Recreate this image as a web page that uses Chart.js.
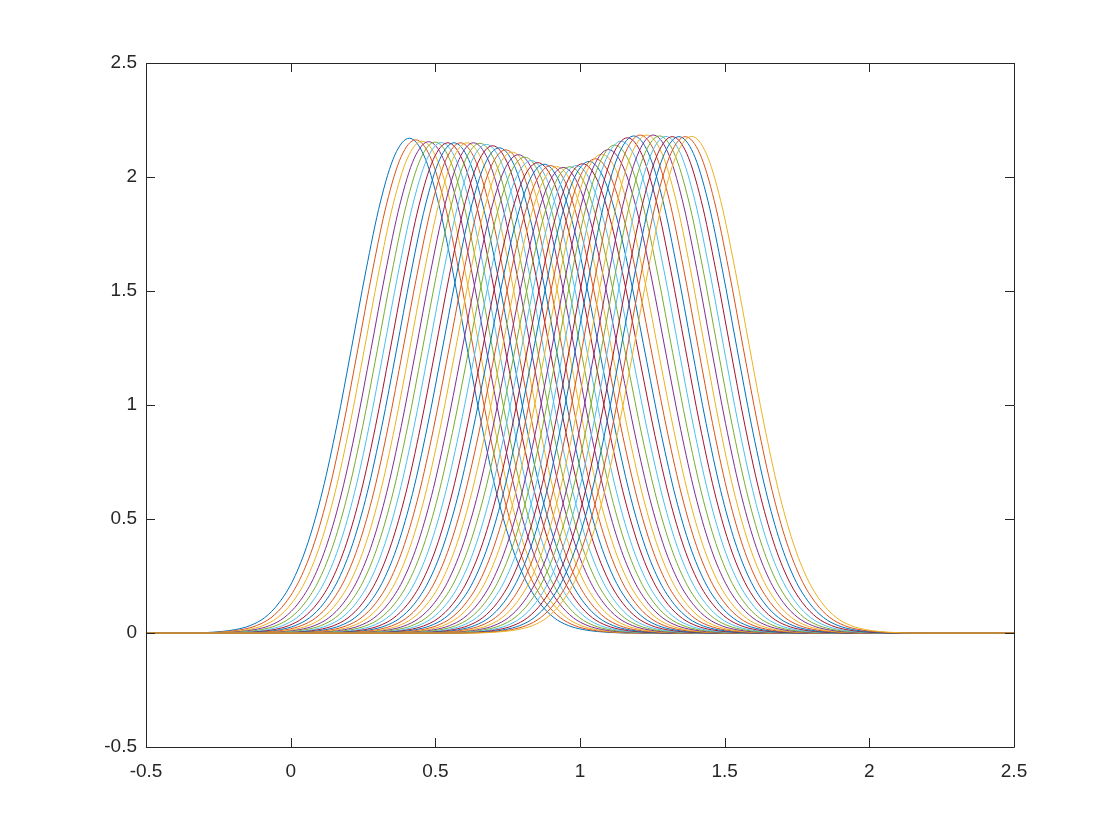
<!DOCTYPE html>
<html>
<head>
<meta charset="utf-8">
<script src="https://cdn.jsdelivr.net/npm/chart.js@4.4.1/dist/chart.umd.min.js"></script>
<style>
  html, body { margin: 0; padding: 0; background: #fff; }
  #wrap { width: 1120px; height: 840px; position: relative; }
</style>
</head>
<body>
<div id="wrap"><canvas id="plot"></canvas></div>
<script>
// profileDx = distance from the peak, profileY = height / peak height
const profileDx = [-0.80, -0.75, -0.70, -0.65, -0.60, -0.55, -0.50, -0.45, -0.40, -0.35, -0.30, -0.25, -0.20, -0.15, -0.10, -0.05,
  0.00, 0.05, 0.10, 0.15, 0.20, 0.25, 0.30, 0.35, 0.40, 0.45, 0.50, 0.55, 0.60, 0.65, 0.70, 0.75, 0.80];
const profileY = [0.000, 0.000, 0.001, 0.003, 0.007, 0.015, 0.031, 0.061, 0.109, 0.183, 0.287, 0.421, 0.575, 0.732, 0.871, 0.966,
  1.000, 0.966, 0.871, 0.732, 0.575, 0.421, 0.287, 0.183, 0.109, 0.061, 0.031, 0.015, 0.007, 0.003, 0.001, 0.000, 0.000];

// peak position and peak height of each of the 45 curves
const peakX = [0.410, 0.432, 0.454, 0.477, 0.499, 0.521, 0.543, 0.565, 0.587, 0.610, 0.632, 0.654, 0.676, 0.698, 0.721,
  0.743, 0.765, 0.787, 0.809, 0.831, 0.854, 0.876, 0.898, 0.920, 0.942, 0.965, 0.987, 1.009, 1.031, 1.053,
  1.075, 1.098, 1.120, 1.142, 1.164, 1.186, 1.208, 1.231, 1.253, 1.275, 1.297, 1.319, 1.342, 1.364, 1.386];
const peakY = [2.170, 2.163, 2.157, 2.155, 2.153, 2.151, 2.150, 2.150, 2.150, 2.150, 2.150, 2.148, 2.143, 2.137, 2.128,
  2.119, 2.109, 2.098, 2.087, 2.072, 2.063, 2.056, 2.050, 2.045, 2.042, 2.045, 2.050, 2.058, 2.068, 2.080,
  2.100, 2.120, 2.140, 2.157, 2.172, 2.180, 2.184, 2.184, 2.184, 2.180, 2.178, 2.177, 2.177, 2.177, 2.178];

const xRange = [-0.5, 2.5];
const yRange = [-0.5, 2.5];
const tickStep = 0.5;

// default MATLAB colour order
const colorOrder = ['#0072BD', '#D95319', '#EDB120', '#7E2F8E', '#77AC30', '#4DBEEE', '#A2142F'];

const axisColor = '#262626';
const fontFamily = '"Liberation Sans", Helvetica, Arial, sans-serif';

function curvePoints(i){
  const pts = [{x: xRange[0], y: 0}];
  profileDx.forEach((dx, k) => pts.push({x: peakX[i] + dx, y: peakY[i] * profileY[k]}));
  pts.push({x: xRange[1], y: 0});
  return pts;
}

const datasets = peakX.map((_, i) => ({
  data: curvePoints(i),
  borderColor: colorOrder[i % colorOrder.length],
  borderWidth: 1,
  pointRadius: 0,
  fill: false,
  cubicInterpolationMode: 'monotone',
  order: -i
}));

// plain tick text: 1 not 1.0
const tickLabel = v => String(Math.round(v * 10) / 10);

// box round the axes with inward ticks on all four sides
const boxPlugin = {
  id: 'box',
  afterDraw(chart){
    const {ctx, chartArea: a, scales} = chart;
    const len = 9;
    ctx.save();
    ctx.strokeStyle = axisColor;
    ctx.lineWidth = 1;
    ctx.beginPath();
    ctx.rect(Math.round(a.left) + 0.5, Math.round(a.top) + 0.5,
             Math.round(a.right - a.left), Math.round(a.bottom - a.top));
    scales.x.ticks.forEach(t => {
      const px = Math.round(scales.x.getPixelForValue(t.value)) + 0.5;
      ctx.moveTo(px, a.bottom); ctx.lineTo(px, a.bottom - len);
      ctx.moveTo(px, a.top); ctx.lineTo(px, a.top + len);
    });
    scales.y.ticks.forEach(t => {
      const py = Math.round(scales.y.getPixelForValue(t.value)) + 0.5;
      ctx.moveTo(a.left, py); ctx.lineTo(a.left + len, py);
      ctx.moveTo(a.right, py); ctx.lineTo(a.right - len, py);
    });
    ctx.stroke();
    ctx.restore();
  }
};

new Chart(document.getElementById('plot'), {
  type: 'line',
  data: { datasets },
  options: {
    responsive: true,
    maintainAspectRatio: false,
    animation: false,
    events: [],
    layout: { padding: { top: 63, right: 106, left: 0, bottom: 0 } },
    plugins: { legend: { display: false }, tooltip: { enabled: false } },
    scales: {
      x: {
        type: 'linear',
        min: xRange[0], max: xRange[1],
        ticks: { stepSize: tickStep, color: axisColor, padding: 13, maxRotation: 0,
                 callback: tickLabel, font: { family: fontFamily, size: 19 } },
        grid: { display: false, drawTicks: false },
        border: { display: false },
        afterFit(s){ s.height = 93; }
      },
      y: {
        type: 'linear',
        min: yRange[0], max: yRange[1],
        ticks: { stepSize: tickStep, color: axisColor, padding: 9,
                 callback: tickLabel, font: { family: fontFamily, size: 19 } },
        grid: { display: false, drawTicks: false },
        border: { display: false },
        afterFit(s){ s.width = 146; }
      }
    }
  },
  plugins: [boxPlugin]
});
</script>
</body>
</html>
